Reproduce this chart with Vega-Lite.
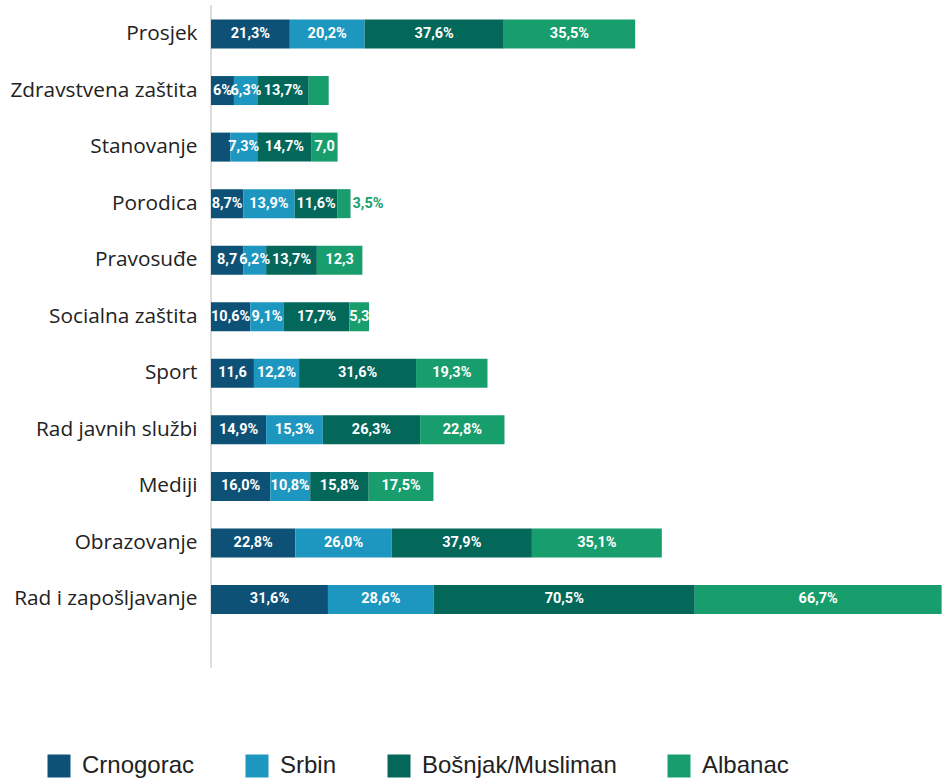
{
  "$schema": "https://vega.github.io/schema/vega-lite/v6.json",
  "width": 731,
  "height": 663,
  "autosize": {"type": "none"},
  "padding": {"left": 211, "top": 5, "right": 0, "bottom": 114},
  "background": "white",
  "config": {"view": {"stroke": null}},
  "data": {"values": [
    {"c": "Prosjek", "g": "Crnogorac", "v": 21.3, "l": "21,3%"},
    {"c": "Prosjek", "g": "Srbin", "v": 20.2, "l": "20,2%"},
    {"c": "Prosjek", "g": "Bošnjak/Musliman", "v": 37.6, "l": "37,6%"},
    {"c": "Prosjek", "g": "Albanac", "v": 35.5, "l": "35,5%"},
    {"c": "Zdravstvena zaštita", "g": "Crnogorac", "v": 6.2, "l": "6%"},
    {"c": "Zdravstvena zaštita", "g": "Srbin", "v": 6.5, "l": "6,3%"},
    {"c": "Zdravstvena zaštita", "g": "Bošnjak/Musliman", "v": 13.7, "l": "13,7%"},
    {"c": "Zdravstvena zaštita", "g": "Albanac", "v": 5.4, "l": ""},
    {"c": "Stanovanje", "g": "Crnogorac", "v": 5.2, "l": ""},
    {"c": "Stanovanje", "g": "Srbin", "v": 7.3, "l": "7,3%"},
    {"c": "Stanovanje", "g": "Bošnjak/Musliman", "v": 14.7, "l": "14,7%"},
    {"c": "Stanovanje", "g": "Albanac", "v": 7.0, "l": "7,0"},
    {"c": "Porodica", "g": "Crnogorac", "v": 8.7, "l": "8,7%"},
    {"c": "Porodica", "g": "Srbin", "v": 13.9, "l": "13,9%"},
    {"c": "Porodica", "g": "Bošnjak/Musliman", "v": 11.6, "l": "11,6%"},
    {"c": "Porodica", "g": "Albanac", "v": 3.5, "l": "3,5%"},
    {"c": "Pravosuđe", "g": "Crnogorac", "v": 8.7, "l": "8,7"},
    {"c": "Pravosuđe", "g": "Srbin", "v": 6.2, "l": "6,2%"},
    {"c": "Pravosuđe", "g": "Bošnjak/Musliman", "v": 13.7, "l": "13,7%"},
    {"c": "Pravosuđe", "g": "Albanac", "v": 12.3, "l": "12,3"},
    {"c": "Socialna zaštita", "g": "Crnogorac", "v": 10.6, "l": "10,6%"},
    {"c": "Socialna zaštita", "g": "Srbin", "v": 9.1, "l": "9,1%"},
    {"c": "Socialna zaštita", "g": "Bošnjak/Musliman", "v": 17.7, "l": "17,7%"},
    {"c": "Socialna zaštita", "g": "Albanac", "v": 5.3, "l": "5,3"},
    {"c": "Sport", "g": "Crnogorac", "v": 11.6, "l": "11,6"},
    {"c": "Sport", "g": "Srbin", "v": 12.2, "l": "12,2%"},
    {"c": "Sport", "g": "Bošnjak/Musliman", "v": 31.6, "l": "31,6%"},
    {"c": "Sport", "g": "Albanac", "v": 19.3, "l": "19,3%"},
    {"c": "Rad javnih službi", "g": "Crnogorac", "v": 14.9, "l": "14,9%"},
    {"c": "Rad javnih službi", "g": "Srbin", "v": 15.3, "l": "15,3%"},
    {"c": "Rad javnih službi", "g": "Bošnjak/Musliman", "v": 26.3, "l": "26,3%"},
    {"c": "Rad javnih službi", "g": "Albanac", "v": 22.8, "l": "22,8%"},
    {"c": "Mediji", "g": "Crnogorac", "v": 16.0, "l": "16,0%"},
    {"c": "Mediji", "g": "Srbin", "v": 10.8, "l": "10,8%"},
    {"c": "Mediji", "g": "Bošnjak/Musliman", "v": 15.8, "l": "15,8%"},
    {"c": "Mediji", "g": "Albanac", "v": 17.5, "l": "17,5%"},
    {"c": "Obrazovanje", "g": "Crnogorac", "v": 22.8, "l": "22,8%"},
    {"c": "Obrazovanje", "g": "Srbin", "v": 26.0, "l": "26,0%"},
    {"c": "Obrazovanje", "g": "Bošnjak/Musliman", "v": 37.9, "l": "37,9%"},
    {"c": "Obrazovanje", "g": "Albanac", "v": 35.1, "l": "35,1%"},
    {"c": "Rad i zapošljavanje", "g": "Crnogorac", "v": 31.6, "l": "31,6%"},
    {"c": "Rad i zapošljavanje", "g": "Srbin", "v": 28.6, "l": "28,6%"},
    {"c": "Rad i zapošljavanje", "g": "Bošnjak/Musliman", "v": 70.5, "l": "70,5%"},
    {"c": "Rad i zapošljavanje", "g": "Albanac", "v": 66.7, "l": "66,7%"}
  ]},
  "transform": [
    {"calculate": "indexof(['Crnogorac','Srbin','Bošnjak/Musliman','Albanac'], datum.g)", "as": "o"},
    {"stack": "v", "groupby": ["c"], "sort": [{"field": "o", "order": "ascending"}], "as": ["x0", "x1"]},
    {"calculate": "(datum.x0 + datum.x1) / 2", "as": "xm"}
  ],
  "layer": [
    {
      "mark": {"type": "rule", "color": "#dddddd", "strokeWidth": 1.5},
      "encoding": {
        "x": {"datum": 0, "type": "quantitative", "scale": {"domain": [0, 197.5], "nice": false, "zero": true}, "axis": null}
      }
    },
    {
      "mark": {"type": "bar"},
      "encoding": {
        "y": {
          "field": "c", "type": "nominal",
          "sort": ["Prosjek", "Zdravstvena zaštita", "Stanovanje", "Porodica", "Pravosuđe", "Socialna zaštita", "Sport", "Rad javnih službi", "Mediji", "Obrazovanje", "Rad i zapošljavanje"],
          "scale": {"range": [14.5, 609], "paddingInner": 0.487, "paddingOuter": 0},
          "axis": {"title": null, "domain": false, "ticks": false, "labelPadding": 14, "labelFont": "Open Sans", "labelFontSize": 20.8, "labelColor": "#222222", "labelLimit": 300}
        },
        "x": {"field": "x0", "type": "quantitative", "scale": {"domain": [0, 197.5], "nice": false, "zero": true}, "axis": null},
        "x2": {"field": "x1"},
        "color": {
          "field": "g", "type": "nominal",
          "scale": {"domain": ["Crnogorac", "Srbin", "Bošnjak/Musliman", "Albanac"], "range": ["#0d5176", "#1e97c0", "#03675a", "#189e6d"]},
          "legend": {
            "title": null, "orient": "none", "direction": "horizontal",
            "legendX": -164, "legendY": 749,
            "symbolType": "square", "symbolSize": 529, "symbolStrokeWidth": 0,
            "labelFont": "Liberation Sans", "labelFontSize": 24, "labelColor": "#222222", "labelLimit": 400,
            "labelOffset": 11, "columnPadding": 50
          }
        }
      }
    },
    {
      "transform": [{"filter": "datum.v >= 4 && datum.l != ''"}],
      "mark": {"type": "text", "color": "white", "font": "Roboto", "fontWeight": "bold", "fontSize": 14.5, "align": "center", "baseline": "middle"},
      "encoding": {
        "y": {"field": "c", "type": "nominal", "sort": ["Prosjek", "Zdravstvena zaštita", "Stanovanje", "Porodica", "Pravosuđe", "Socialna zaštita", "Sport", "Rad javnih službi", "Mediji", "Obrazovanje", "Rad i zapošljavanje"]},
        "x": {"field": "xm", "type": "quantitative"},
        "text": {"field": "l"}
      }
    },
    {
      "transform": [{"filter": "datum.v < 4"}],
      "mark": {"type": "text", "color": "#189e6d", "font": "Roboto", "fontWeight": "bold", "fontSize": 14.5, "align": "left", "baseline": "middle", "dx": 2},
      "encoding": {
        "y": {"field": "c", "type": "nominal", "sort": ["Prosjek", "Zdravstvena zaštita", "Stanovanje", "Porodica", "Pravosuđe", "Socialna zaštita", "Sport", "Rad javnih službi", "Mediji", "Obrazovanje", "Rad i zapošljavanje"]},
        "x": {"field": "x1", "type": "quantitative"},
        "text": {"field": "l"}
      }
    }
  ]
}
